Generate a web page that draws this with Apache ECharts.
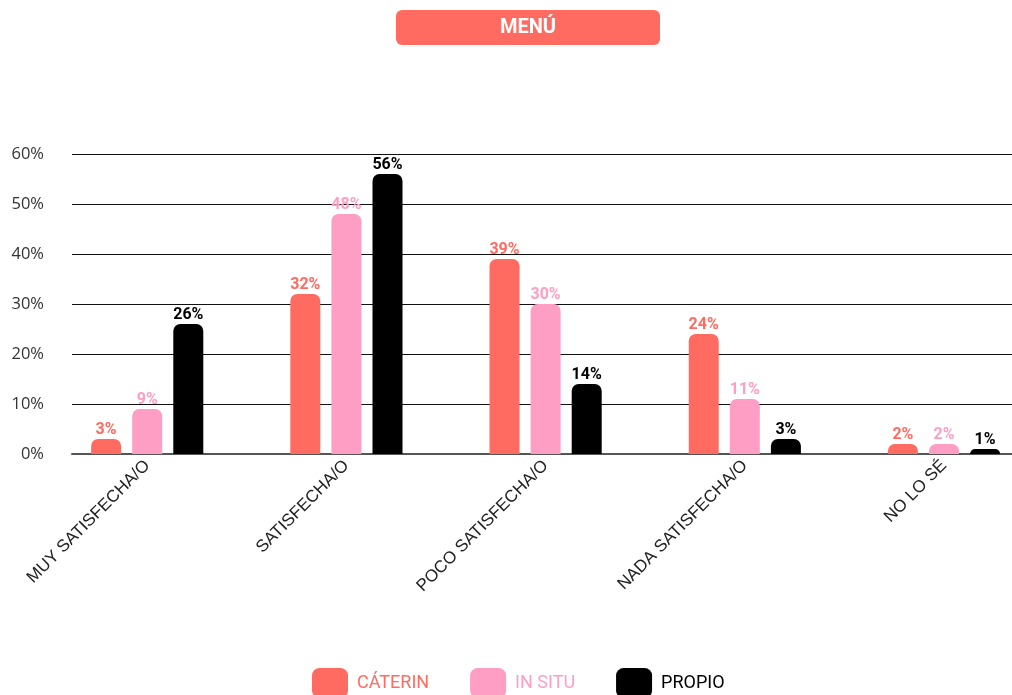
<!DOCTYPE html>
<html>
<head>
<meta charset="utf-8">
<script src="https://cdn.jsdelivr.net/npm/echarts@6/dist/echarts.min.js"></script>
<style>html,body{margin:0;padding:0;background:#fff}#c{width:1012px;height:695px}</style>
</head>
<body>
<div id="c"></div>
<script>
const titleText = 'MENÚ';
const categories = ['MUY SATISFECHA/O', 'SATISFECHA/O', 'POCO SATISFECHA/O', 'NADA SATISFECHA/O', 'NO LO SÉ'];
const seriesNames = ['CÁTERIN', 'IN SITU', 'PROPIO'];
const caterin = [3, 32, 39, 24, 2];
const inSitu = [9, 48, 30, 11, 2];
const propio = [26, 56, 14, 3, 1];
const yTicks = [0, 10, 20, 30, 40, 50, 60];
const colors = ['#FF6B61', '#FF9EC4', '#000000'];

const chart = echarts.init(document.getElementById('c'), null, {renderer: 'canvas'});
const values = [caterin, inSitu, propio];
const font = 'Roboto, "Noto Sans", sans-serif';

const option = {
  animation: false,
  textStyle: {fontFamily: font},
  title: {
    text: '{a|' + titleText + '}',
    left: 396, top: 10, padding: 0,
    textStyle: {
      rich: {
        a: {width: 264, height: 35, align: 'center', verticalAlign: 'middle', lineHeight: 35,
            backgroundColor: colors[0], borderRadius: 6, color: '#fff',
            fontWeight: 'bold', fontSize: 20, fontFamily: font}
      }
    }
  },
  legend: {
    left: 312, top: 668, padding: 0,
    itemWidth: 36, itemHeight: 30, itemGap: 41,
    icon: 'roundRect',
    textStyle: {fontSize: 18, fontFamily: font, padding: [0, 0, 0, 4]},
    data: seriesNames.map((n, i) => ({name: n, textStyle: {color: colors[i], padding: [0, 0, 0, 4]}}))
  },
  grid: [
    {left: 72, right: 0, top: 154, height: 300, outerBoundsMode: 'none', containLabel: false},
    {left: 47.6, width: 996, top: 154, height: 300, outerBoundsMode: 'none', containLabel: false}
  ],
  xAxis: [
    {gridIndex: 0, type: 'value', min: 0, max: 1,
     axisLine: {show: true, lineStyle: {color: '#555', width: 2}},
     axisTick: {show: false}, axisLabel: {show: false}, splitLine: {show: false}},
    {gridIndex: 1, type: 'category', data: categories,
     axisLine: {show: false}, axisTick: {show: false},
     axisLabel: {rotate: 45, fontSize: 17, color: '#222', margin: 9, interval: 0,
                 fontFamily: '"Liberation Sans", Arial, sans-serif'}}
  ],
  yAxis: [
    {gridIndex: 0, type: 'value', min: yTicks[0], max: yTicks[yTicks.length - 1], interval: 10,
     axisLine: {show: false}, axisTick: {show: false},
     axisLabel: {formatter: '{value}%', fontSize: 16.5, color: '#333', margin: 28,
                 fontFamily: '"Open Sans", "Noto Sans", sans-serif'},
     splitLine: {show: true, lineStyle: {color: '#111', width: 1}}},
    {gridIndex: 1, type: 'value', min: yTicks[0], max: yTicks[yTicks.length - 1], show: false}
  ],
  series: seriesNames.map((n, i) => ({
    name: n, type: 'bar', xAxisIndex: 1, yAxisIndex: 1,
    data: values[i], barWidth: 30, barGap: '37%',
    itemStyle: {color: colors[i], borderRadius: [7, 7, 0, 0]},
    label: {show: true, position: 'top', distance: 1, formatter: '{c}%',
            color: colors[i], fontWeight: 'bold', fontSize: 16, fontFamily: font}
  }))
};
chart.setOption(option);
</script>
</body>
</html>
